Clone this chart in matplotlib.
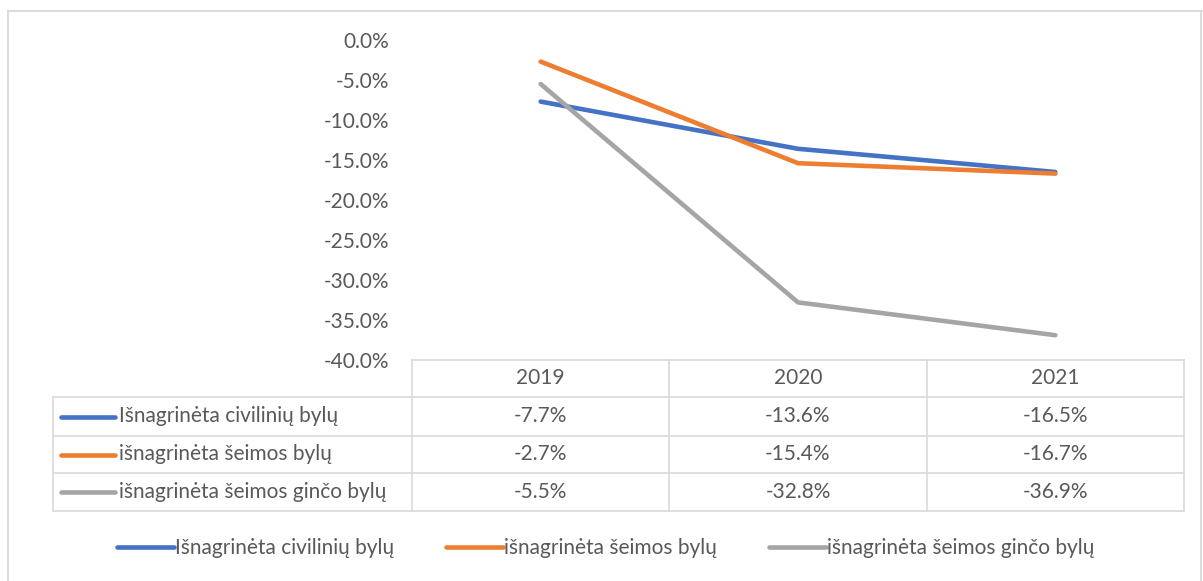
import matplotlib
matplotlib.use("Agg")
import matplotlib.pyplot as plt
from matplotlib.lines import Line2D

# duomenys
years = ["2019", "2020", "2021"]
series_names = ["Išnagrinėta civilinių bylų", "išnagrinėta šeimos bylų", "išnagrinėta šeimos ginčo bylų"]
civil = [-7.7, -13.6, -16.5]
family = [-2.7, -15.4, -16.7]
family_dispute = [-5.5, -32.8, -36.9]
colors = ["#4472C4", "#ED7D31", "#A5A5A5"]
yticks = [0, -5, -10, -15, -20, -25, -30, -35, -40]

plt.rcParams['font.family'] = ['Lato', 'DejaVu Sans']
text_col = "#595959"
grid_col = "#D9D9D9"
fs = 15

W, H = 1203, 581
fig = plt.figure(figsize=(W / 100, H / 100), dpi=100)


def fx(x):
    return x / W


def fy(y):
    return 1 - y / H


# plot area
ax = fig.add_axes([fx(412), fy(360), fx(1184) - fx(412), fy(40) - fy(360)])
all_series = [civil, family, family_dispute]
x = range(len(years))
for vals, c, name in zip(all_series, colors, series_names):
    ax.plot(x, vals, color=c, linewidth=3.3, solid_capstyle='round', label=name)

ax.set_xlim(-0.5, len(years) - 0.5)
ax.set_ylim(-40, 0)
ax.set_yticks(yticks)
ax.set_yticklabels([f"{v:.1f}%" for v in yticks], color=text_col, fontsize=fs)
ax.tick_params(axis='y', length=0, pad=16.5)
ax.set_xticks([])
for s in ax.spines.values():
    s.set_visible(False)


def hline(x0, x1, y, lw=1.2):
    fig.add_artist(Line2D([fx(x0), fx(x1)], [fy(y), fy(y)], color=grid_col, lw=lw, transform=fig.transFigure))


def vline(x, y0, y1, lw=1.2):
    fig.add_artist(Line2D([fx(x), fx(x)], [fy(y0), fy(y1)], color=grid_col, lw=lw, transform=fig.transFigure))


# outer chart border
hline(8, 1203, 11, lw=1.3)
vline(8, 11, 581, lw=1.3)
vline(1201, 11, 581, lw=1.3)

# data table
tab_left, col0, col_right = 53, 412, 1184
row_y = [360, 397, 436, 473, 511]
col_w = (col_right - col0) / len(years)
col_x = [col0 + i * col_w for i in range(len(years) + 1)]

hline(col0, col_right, row_y[0])
for y in row_y[1:]:
    hline(tab_left, col_right, y)
vline(tab_left, row_y[1], row_y[-1])
for cx in col_x:
    vline(cx, row_y[0], row_y[-1])

for i, yr in enumerate(years):
    fig.text(fx(col_x[i] + col_w / 2), fy((row_y[0] + row_y[1]) / 2), yr,
             ha='center', va='center', color=text_col, fontsize=fs)

for r, (vals, c, name) in enumerate(zip(all_series, colors, series_names)):
    yc = (row_y[r + 1] + row_y[r + 2]) / 2
    fig.add_artist(Line2D([fx(61), fx(115)], [fy(yc), fy(yc)], color=c, lw=3.3,
                          solid_capstyle='round', transform=fig.transFigure))
    fig.text(fx(119), fy(yc), name, ha='left', va='center', color=text_col, fontsize=fs)
    for i, v in enumerate(vals):
        fig.text(fx(col_x[i] + col_w / 2), fy(yc), f"{v:.1f}%",
                 ha='center', va='center', color=text_col, fontsize=fs)

# legend
handles = [Line2D([], [], color=c, lw=3.3, solid_capstyle='round') for c in colors]
leg = fig.legend(handles, series_names, loc='center', bbox_to_anchor=(fx(606), fy(548)),
                 ncol=3, frameon=False, fontsize=fs, handlelength=2.7, handletextpad=0.08,
                 columnspacing=2.5)
for t in leg.get_texts():
    t.set_color(text_col)

fig.savefig("out.png", dpi=100)
